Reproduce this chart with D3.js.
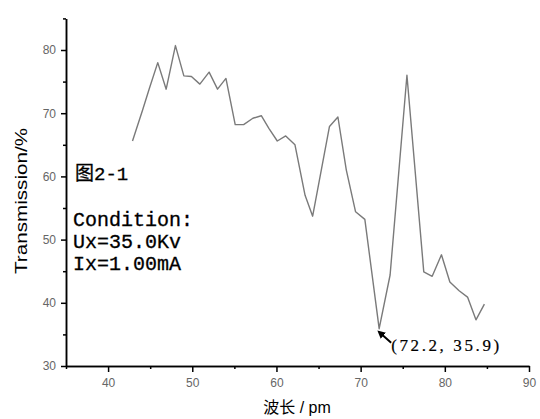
<!DOCTYPE html>
<html>
<head>
<meta charset="utf-8">
<script src="https://cdn.jsdelivr.net/npm/d3@7"></script>
<style>
  body { margin: 0; background: #fff; }
  svg { display: block; }
  .axis text { font-family: "Liberation Sans", Arial, sans-serif; font-size: 12px; fill: #666; }
  .axis path, .axis line { stroke: #000; stroke-width: 1.5; }
</style>
</head>
<body>
<div id="chart"></div>
<script>
// wavelength (pm) and transmission (%)
var wavelength = [42.9, 44.1, 44.9, 45.9, 46.9, 48.0, 49.0, 49.9, 50.9, 52.0,
                  53.0, 54.0, 55.1, 56.1, 57.2, 58.2, 59.1, 60.1, 61.1, 62.2,
                  63.4, 64.3, 66.3, 67.3, 68.3, 69.4, 70.5, 72.2, 73.5, 75.5,
                  77.5, 78.5, 79.6, 80.6, 81.7, 82.7, 83.7, 84.7];
var transmission = [65.6, 70.5, 73.9, 78.0, 73.8, 80.7, 75.9, 75.8, 74.6, 76.5,
                    73.8, 75.5, 68.2, 68.2, 69.2, 69.6, 67.6, 65.6, 66.4, 65.0,
                    57.0, 53.7, 67.9, 69.4, 61.0, 54.4, 53.2, 35.9, 44.4, 76.0,
                    44.9, 44.2, 47.6, 43.3, 41.9, 40.9, 37.3, 39.8];
var xMajor = [40, 50, 60, 70, 80, 90];
var xMinor = [35, 45, 55, 65, 75, 85];
var yMajor = [30, 40, 50, 60, 70, 80];
var yMinor = [35, 45, 55, 65, 75, 85];
var minPoint = {x: 72.2, y: 35.9};
var condition = ["Condition:", "Ux=35.0Kv", "Ix=1.00mA"];

var W = 540, H = 419;
var svg = d3.select("#chart").append("svg")
    .attr("width", W)
    .attr("height", H);

var x = d3.scaleLinear().domain([35, 90]).range([66, 529]);
var y = d3.scaleLinear().domain([30, 85]).range([366, 18.4]);

var data = wavelength.map(function(d, i) { return {x: d, y: transmission[i]}; });

// minor ticks first, majors on top
svg.append("g")
    .attr("class", "axis")
    .attr("transform", "translate(" + x(35) + ",0)")
    .call(d3.axisLeft(y).tickValues(yMinor).tickSize(3).tickSizeOuter(0).tickFormat(""));
svg.append("g")
    .attr("class", "axis")
    .attr("transform", "translate(" + x(35) + ",0)")
    .call(d3.axisLeft(y).tickValues(yMajor).tickSize(5).tickSizeOuter(0).tickPadding(5));

svg.append("g")
    .attr("class", "axis")
    .attr("transform", "translate(0," + y(30) + ")")
    .call(d3.axisBottom(x).tickValues(xMinor).tickSize(3).tickSizeOuter(0).tickFormat(""));
svg.append("g")
    .attr("class", "axis")
    .attr("transform", "translate(0," + y(30) + ")")
    .call(d3.axisBottom(x).tickValues(xMajor).tickSize(6).tickSizeOuter(0).tickPadding(6));

// the curve
var line = d3.line()
    .x(function(d) { return x(d.x); })
    .y(function(d) { return y(d.y); });

svg.append("path")
    .datum(data)
    .attr("d", line)
    .attr("fill", "none")
    .attr("stroke", "#7a7a7a")
    .attr("stroke-width", 1.4)
    .attr("stroke-linejoin", "round");

// axis titles
svg.append("text")
    .attr("transform", "translate(27,201) rotate(-90)")
    .attr("text-anchor", "middle")
    .attr("font-family", "Liberation Sans, Arial, sans-serif")
    .attr("font-size", 16)
    .attr("textLength", 146)
    .attr("lengthAdjust", "spacingAndGlyphs")
    .text("Transmission/%");

var xt = svg.append("text")
    .attr("x", 297)
    .attr("y", 413)
    .attr("text-anchor", "middle")
    .attr("font-size", 16);
xt.append("tspan").attr("font-family", "Noto Sans CJK SC").text("波长");
xt.append("tspan").attr("font-family", "Liberation Sans, Arial, sans-serif").text(" / pm");

// figure label and conditions
var fig = svg.append("text")
    .attr("x", 75)
    .attr("y", 180)
    .attr("font-size", 19)
    .attr("stroke", "#000")
    .attr("stroke-width", 0.3);
fig.append("tspan").attr("font-family", "Noto Sans CJK SC").text("图");
fig.append("tspan").attr("font-family", "Liberation Mono, monospace").text("2-1");

svg.selectAll(".cond")
    .data(condition)
    .enter()
    .append("text")
    .attr("class", "cond")
    .attr("x", 73)
    .attr("y", function(d, i) { return 226 + i * 22; })
    .attr("font-family", "Liberation Mono, monospace")
    .attr("font-size", 20)
    .attr("stroke", "#000")
    .attr("stroke-width", 0.3)
    .text(function(d) { return d; });

// annotation at the minimum
svg.append("defs").append("marker")
    .attr("id", "arrow")
    .attr("viewBox", "0 0 10 10")
    .attr("refX", 2)
    .attr("refY", 5)
    .attr("markerWidth", 4)
    .attr("markerHeight", 4)
    .attr("orient", "auto")
    .append("path")
    .attr("d", "M0,0 L10,5 L0,10 z")
    .attr("fill", "#000");

svg.append("line")
    .attr("x1", x(minPoint.x) + 12)
    .attr("y1", y(minPoint.y) + 14)
    .attr("x2", x(minPoint.x) + 3)
    .attr("y2", y(minPoint.y) + 6)
    .attr("stroke", "#000")
    .attr("stroke-width", 2)
    .attr("marker-end", "url(#arrow)");

svg.append("text")
    .attr("x", x(minPoint.x) + 12)
    .attr("y", y(minPoint.y) + 22)
    .attr("font-family", "Liberation Serif, serif")
    .attr("font-size", 17)
    .attr("textLength", 108)
    .attr("lengthAdjust", "spacing")
    .attr("stroke", "#000")
    .attr("stroke-width", 0.2)
    .text("(" + minPoint.x.toFixed(1) + ", " + minPoint.y.toFixed(1) + ")");
</script>
</body>
</html>
